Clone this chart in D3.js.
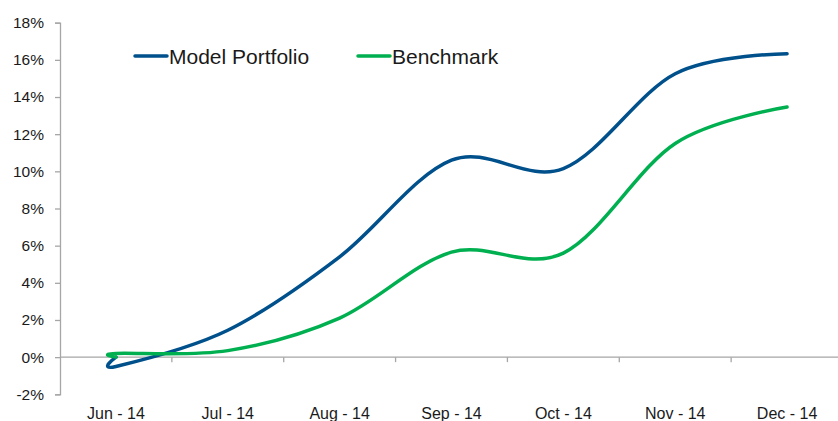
<!DOCTYPE html>
<html>
<head>
<meta charset="utf-8">
<script src="https://cdn.jsdelivr.net/npm/d3@7"></script>
<style>
  body { margin: 0; background: #fff; }
  text { font-family: "Liberation Sans", Arial, sans-serif; }
</style>
</head>
<body>
<div id="container"></div>
<script>
let w = 838;
let h = 421;

// data
let months = ["Jun - 14", "Jul - 14", "Aug - 14", "Sep - 14", "Oct - 14", "Nov - 14", "Dec - 14"];
// first point of each series is the inception value (0%) at Jun - 14
let pointMonths = ["Jun - 14", "Jun - 14", "Jul - 14", "Aug - 14", "Sep - 14", "Oct - 14", "Nov - 14", "Dec - 14"];
let modelPortfolio = [0, -0.5, 1.45, 5.4, 10.6, 10.15, 15.25, 16.33];
let benchmark = [0, 0.2, 0.35, 2.1, 5.65, 5.6, 11.5, 13.46];
let yTicks = [-2, 0, 2, 4, 6, 8, 10, 12, 14, 16, 18];
let seriesNames = ["Model Portfolio", "Benchmark"];
let seriesColors = ["#00508c", "#00b050"];

let viz = d3.select("#container")
  .append("svg")
    .attr("width", w)
    .attr("height", h)
    .style("background-color", "#ffffff")
;

let xScale = d3.scaleBand().domain(months).range([60, 843]);
let yScale = d3.scaleLinear().domain([-2, 18]).range([394.3, 22.7]);

// y axis
let yAxis = d3.axisLeft(yScale)
  .tickValues(yTicks)
  .tickSize(5)
  .tickPadding(11)
  .tickFormat(d => d + "%");
let yAxisGroup = viz.append("g")
  .attr("class", "yaxis")
  .attr("transform", "translate(60,0)")
  .call(yAxis);
yAxisGroup.select(".domain").attr("stroke", "#a6a6a6").attr("stroke-width", 1.3);
yAxisGroup.selectAll(".tick line").attr("stroke", "#a6a6a6").attr("stroke-width", 1.3);
yAxisGroup.selectAll(".tick text")
  .attr("fill", "#1a1a1a")
  .style("font-size", "15.5px");

// x axis line at 0%
let zeroY = yScale(0);
viz.append("line")
  .attr("x1", 60)
  .attr("x2", w)
  .attr("y1", zeroY)
  .attr("y2", zeroY)
  .attr("stroke", "#a6a6a6")
  .attr("stroke-width", 1.3);

// tick marks between categories
viz.selectAll(".xtick").data(months.slice(1)).enter()
  .append("line")
    .attr("class", "xtick")
    .attr("x1", d => xScale(d))
    .attr("x2", d => xScale(d))
    .attr("y1", zeroY)
    .attr("y2", zeroY + 5)
    .attr("stroke", "#a6a6a6")
    .attr("stroke-width", 1.3);

// x labels at the bottom
let xAxis = d3.axisBottom(xScale).tickSize(0).tickPadding(13);
let xAxisGroup = viz.append("g")
  .attr("class", "xaxis")
  .attr("transform", "translate(0,394.3)")
  .call(xAxis);
xAxisGroup.select(".domain").remove();
xAxisGroup.selectAll(".tick text")
  .attr("fill", "#1a1a1a")
  .style("font-size", "16px");

// lines
function xPos(m) {
  return xScale(m) + xScale.bandwidth() / 2;
}
let line = d3.line()
  .x(d => xPos(d.m))
  .y(d => yScale(d.v))
  .curve(d3.curveCardinal.tension(0));

let allSeries = [modelPortfolio, benchmark];
allSeries.forEach(function(values, i) {
  let pts = values.map((v, j) => ({ m: pointMonths[j], v: v }));
  viz.append("path")
    .datum(pts)
    .attr("fill", "none")
    .attr("stroke", seriesColors[i])
    .attr("stroke-width", 3.5)
    .attr("stroke-linecap", "round")
    .attr("stroke-linejoin", "round")
    .attr("d", line);
});

// legend
let legendX = [135, 358];
let legend = viz.selectAll(".legend").data(seriesNames).enter()
  .append("g")
    .attr("class", "legend")
    .attr("transform", (d, i) => "translate(" + legendX[i] + ",56)");
legend.append("line")
  .attr("x1", 0)
  .attr("x2", 32)
  .attr("y1", 0)
  .attr("y2", 0)
  .attr("stroke", (d, i) => seriesColors[i])
  .attr("stroke-width", 3.5)
  .attr("stroke-linecap", "round");
legend.append("text")
  .attr("x", 34)
  .attr("y", 7.5)
  .attr("fill", "#1a1a1a")
  .style("font-size", "21px")
  .text(d => d);
</script>
</body>
</html>
